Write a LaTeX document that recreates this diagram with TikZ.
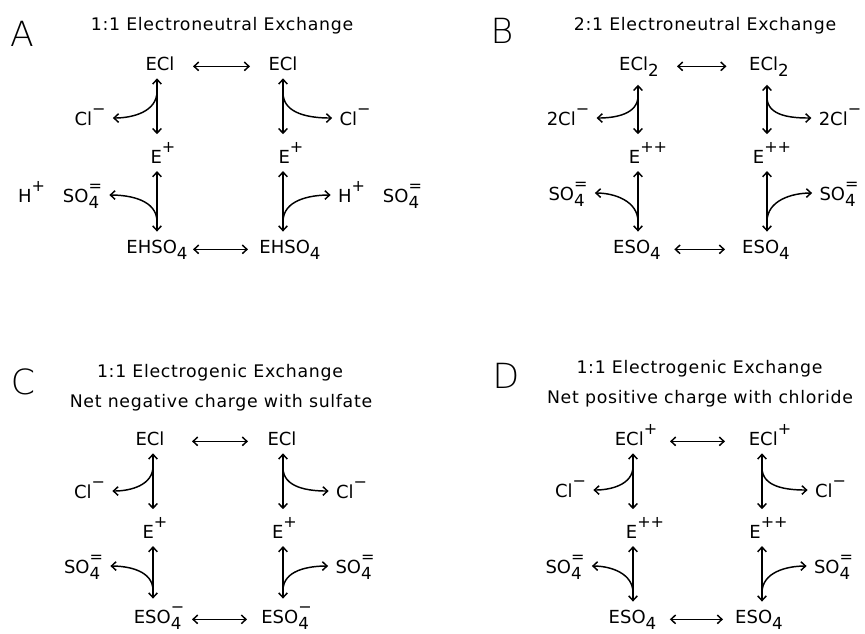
\documentclass[tikz,border=0pt]{standalone}
\usepackage{fontspec}
\setmainfont{DejaVu Sans}
\newfontfamily\thinfont{DejaVu Sans ExtraLight}
\usetikzlibrary{arrows.meta}
\tikzset{>={Straight Barb[length=3.5pt,width=6.5pt]}}
\newcommand{\chg}[1]{\raisebox{8pt}{\fontsize{12}{12}\selectfont #1}}
\newcommand{\sbs}[1]{\raisebox{-5pt}{\fontsize{12.5}{12.5}\selectfont #1}}
\newcommand{\sbchg}[2]{\rlap{\sbs{#1}}\chg{#2}}
\tikzstyle{sp} = [anchor=base, inner sep=1pt, font=\fontsize{13.5}{15}\selectfont]
\tikzstyle{ion} = [sp, inner xsep=5pt]
\tikzstyle{ttl} = [anchor=base, inner sep=0pt, font=\fontsize{13}{15}\selectfont\addfontfeature{LetterSpace=4}]
\tikzstyle{lbl} = [inner sep=0pt, font=\thinfont\fontsize{26}{30}\selectfont]
\tikzstyle{varr} = [<->, shorten <=4.5pt, shorten >=4.5pt]

\begin{document}
\begin{tikzpicture}[x=0.75pt, y=-0.75pt, line width=1.1pt]
\useasboundingbox (0,0) rectangle (865,633);

% A: 1:1 electroneutral
\node [lbl] (Alab) at (22,34) {A};
\node [ttl] (Atit) at (222,30) {1:1 Electroneutral Exchange};
\coordinate (AL) at (157,0);
\coordinate (AR) at (283,0);
\node [sp] (AECl1) at (160,70) {ECl};
\node [sp] (AECl2) at (283,70) {ECl};
\node [sp] (AE1) at (163,163) {E\chg{+}};
\node [sp] (AE2) at (291,163) {E\chg{+}};
\node [sp] (AES1) at (157,253) {EHSO\sbs{4}};
\node [sp] (AES2) at (290,253) {EHSO\sbs{4}};
\node [ion] (ACl1) at (90,125) {Cl\chg{−}};
\node [ion] (ACl2) at (355,125) {Cl\chg{−}};
\node [ion] (ASO1) at (60,202) {H\chg{+}\quad SO\sbchg{4}{=}};
\node [ion] (ASO2) at (380,202) {H\chg{+}\quad SO\sbchg{4}{=}};

\draw [<->, shorten <=24.75pt, shorten >=24.75pt] (AECl1.mid) -- (AECl2.mid);
\draw [<->, shorten <=27pt, shorten >=31.5pt] (AES1.mid) -- (AES2.mid);
\draw [varr] (AL |- AECl1.south) -- coordinate [pos=0.28] (Ac1) (AL |- AE1.north);
\draw [varr] (AL |- AE1.south) -- coordinate [pos=0.78] (Ac2) (AL |- AES1.north);
\draw [varr] (AR |- AECl2.south) -- coordinate [pos=0.3] (Ac3) (AR |- AE2.north);
\draw [varr] (AR |- AE2.south) -- coordinate [pos=0.78] (Ac4) (AR |- AES2.north);
\draw [->] (Ac1) to [out=-90, in=0] ([yshift=2.5pt]ACl1.mid east);
\draw [->] (Ac2) to [out=90, in=0] ([yshift=2.5pt]ASO1.mid east);
\draw [->] (Ac3) to [out=-90, in=180] ([yshift=2.5pt]ACl2.mid west);
\draw [->] (Ac4) to [out=90, in=180] ([yshift=2.5pt]ASO2.mid west);

% B: 2:1 electroneutral
\node [lbl] (Blab) at (502,31) {B};
\node [ttl] (Btit) at (705,30) {2:1 Electroneutral Exchange};
\coordinate (BL) at (638,0);
\coordinate (BR) at (767,0);
\node [sp] (BECl1) at (639,70) {ECl\sbs{2}};
\node [sp] (BECl2) at (769,70) {ECl\sbs{2}};
\node [sp] (BE1) at (648,163) {E\chg{++}};
\node [sp] (BE2) at (772,163) {E\chg{++}};
\node [sp] (BES1) at (637,253) {ESO\sbs{4}};
\node [sp] (BES2) at (766,253) {ESO\sbs{4}};
\node [ion] (BCl1) at (568,125) {2Cl\chg{−}};
\node [ion] (BCl2) at (840,125) {2Cl\chg{−}};
\node [ion] (BSO1) at (568,200) {SO\sbchg{4}{=}};
\node [ion] (BSO2) at (839,200) {SO\sbchg{4}{=}};

\draw [<->, shorten <=28.5pt, shorten >=31.9pt] (BECl1.mid) -- (BECl2.mid);
\draw [<->, shorten <=28pt, shorten >=30.75pt] (BES1.mid) -- (BES2.mid);
\draw [varr] (BL |- BECl1.south) -- coordinate [pos=0.28] (Bc1) (BL |- BE1.north);
\draw [varr] (BL |- BE1.south) -- coordinate [pos=0.78] (Bc2) (BL |- BES1.north);
\draw [varr] (BR |- BECl2.south) -- coordinate [pos=0.3] (Bc3) (BR |- BE2.north);
\draw [varr] (BR |- BE2.south) -- coordinate [pos=0.78] (Bc4) (BR |- BES2.north);
\draw [->] (Bc1) to [out=-90, in=0] ([yshift=2.5pt]BCl1.mid east);
\draw [->] (Bc2) to [out=90, in=0] ([yshift=2.5pt]BSO1.mid east);
\draw [->] (Bc3) to [out=-90, in=180] ([yshift=2.5pt]BCl2.mid west);
\draw [->] (Bc4) to [out=90, in=180] ([yshift=2.5pt]BSO2.mid west);

% C: electrogenic, net negative with sulfate
\node [lbl] (Clab) at (23,382) {C};
\node [ttl] (Ctit1) at (220,377) {1:1 Electrogenic Exchange};
\node [ttl] (Ctit2) at (221,407) {Net negative charge with sulfate};
\coordinate (CL) at (153,0);
\coordinate (CR) at (283,0);
\node [sp] (CECl1) at (150,445) {ECl};
\node [sp] (CECl2) at (282,445) {ECl};
\node [sp] (CE1) at (155,538) {E\chg{+}};
\node [sp] (CE2) at (284.5,538) {E\chg{+}};
\node [sp] (CES1) at (159,623) {ESO\sbchg{4}{−}};
\node [sp] (CES2) at (286.5,623) {ESO\sbchg{4}{−}};
\node [ion] (CCl1) at (89.5,498) {Cl\chg{−}};
\node [ion] (CCl2) at (351.5,498) {Cl\chg{−}};
\node [ion] (CSO1) at (83.5,573) {SO\sbchg{4}{=}};
\node [ion] (CSO2) at (355,573) {SO\sbchg{4}{=}};

\draw [<->, shorten <=31.5pt, shorten >=25.5pt] (CECl1.mid) -- (CECl2.mid);
\draw [<->, shorten <=24.75pt, shorten >=29.6pt] (CES1.mid) -- (CES2.mid);
\draw [varr] (CL |- CECl1.south) -- coordinate [pos=0.28] (Cc1) (CL |- CE1.north);
\draw [varr] (CL |- CE1.south) -- coordinate [pos=0.78] (Cc2) (CL |- CES1.north);
\draw [varr] (CR |- CECl2.south) -- coordinate [pos=0.3] (Cc3) (CR |- CE2.north);
\draw [varr] (CR |- CE2.south) -- coordinate [pos=0.78] (Cc4) (CR |- CES2.north);
\draw [->] (Cc1) to [out=-90, in=0] ([yshift=2.5pt]CCl1.mid east);
\draw [->] (Cc2) to [out=90, in=0] ([yshift=2.5pt]CSO1.mid east);
\draw [->] (Cc3) to [out=-90, in=180] ([yshift=2.5pt]CCl2.mid west);
\draw [->] (Cc4) to [out=90, in=180] ([yshift=2.5pt]CSO2.mid west);

% D: electrogenic, net positive with chloride
\node [lbl] (Dlab) at (506,376) {D};
\node [ttl] (Dtit1) at (699.5,373) {1:1 Electrogenic Exchange};
\node [ttl] (Dtit2) at (700,403) {Net positive charge with chloride};
\coordinate (DL) at (633,0);
\coordinate (DR) at (762,0);
\node [sp] (DECl1) at (636,445) {ECl\chg{+}};
\node [sp] (DECl2) at (770,445) {ECl\chg{+}};
\node [sp] (DE1) at (645,538) {E\chg{++}};
\node [sp] (DE2) at (768.5,538) {E\chg{++}};
\node [sp] (DES1) at (632.5,623) {ESO\sbs{4}};
\node [sp] (DES2) at (759,623) {ESO\sbs{4}};
\node [ion] (DCl1) at (570.5,497) {Cl\chg{−}};
\node [ion] (DCl2) at (830.5,497) {Cl\chg{−}};
\node [ion] (DSO1) at (565,573) {SO\sbchg{4}{=}};
\node [ion] (DSO2) at (833.5,573) {SO\sbchg{4}{=}};

\draw [<->, shorten <=25.5pt, shorten >=33.75pt] (DECl1.mid) -- (DECl2.mid);
\draw [<->, shorten <=28pt, shorten >=27pt] (DES1.mid) -- (DES2.mid);
\draw [varr] (DL |- DECl1.south) -- coordinate [pos=0.28] (Dc1) (DL |- DE1.north);
\draw [varr] (DL |- DE1.south) -- coordinate [pos=0.78] (Dc2) (DL |- DES1.north);
\draw [varr] (DR |- DECl2.south) -- coordinate [pos=0.3] (Dc3) (DR |- DE2.north);
\draw [varr] (DR |- DE2.south) -- coordinate [pos=0.78] (Dc4) (DR |- DES2.north);
\draw [->] (Dc1) to [out=-90, in=0] ([yshift=2.5pt]DCl1.mid east);
\draw [->] (Dc2) to [out=90, in=0] ([yshift=2.5pt]DSO1.mid east);
\draw [->] (Dc3) to [out=-90, in=180] ([yshift=2.5pt]DCl2.mid west);
\draw [->] (Dc4) to [out=90, in=180] ([yshift=2.5pt]DSO2.mid west);
\end{tikzpicture}
\end{document}
